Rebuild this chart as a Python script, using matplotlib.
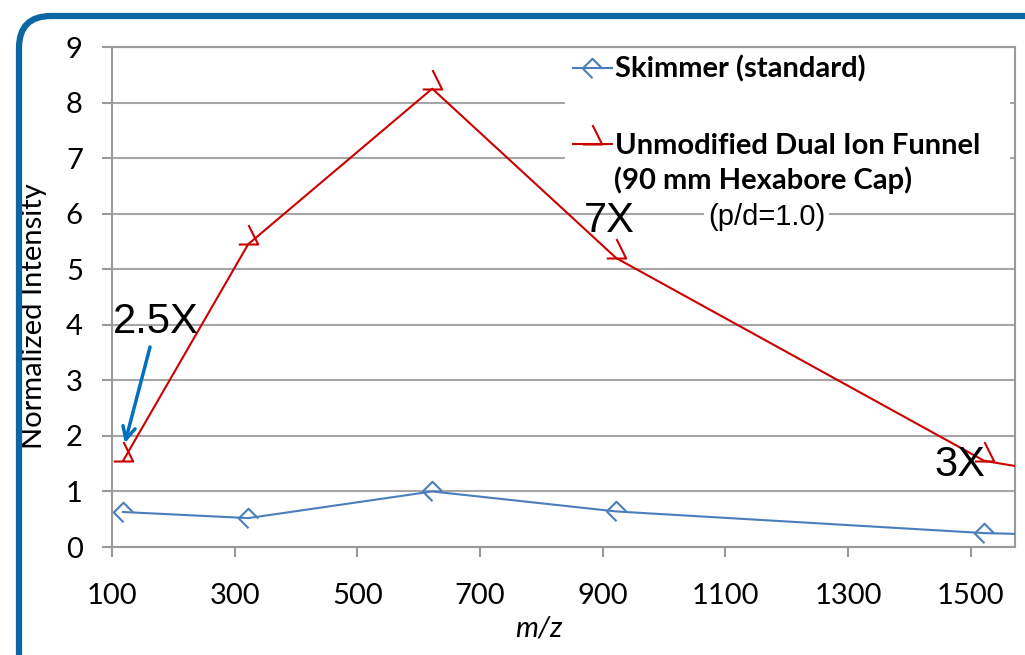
import matplotlib.pyplot as plt
import numpy as np
from matplotlib.path import Path
from matplotlib.patches import FancyBboxPatch
from matplotlib.transforms import IdentityTransform

# m/z of the tune-mix ions and normalized intensities
mz = [118, 322, 622, 922, 1522, 1822]
skimmer = [0.63, 0.52, 1.0, 0.64, 0.25, 0.17]
funnel = [1.55, 5.45, 8.25, 5.2, 1.55, 1.0]

x_ticks = [100, 300, 500, 700, 900, 1100, 1300, 1500]
y_ticks = [0, 1, 2, 3, 4, 5, 6, 7, 8, 9]

blue = '#4A7EBB'
red = '#CC0000'
grey = '#9A9A9A'

plt.rcParams['font.family'] = ['Lato', 'DejaVu Sans']

# open markers drawn only partly, as in the original chart
diamond = Path([(0, -1), (-1, 0), (0, 1), (1, 0)])
tri = Path([(-1, 0), (1, 0), (0, 2)])

fig = plt.figure(figsize=(10.25, 6.55), dpi=100)
ax = fig.add_axes([112 / 1025, 1 - 547 / 655, 903 / 1025, 500 / 655])

ax.plot(mz, skimmer, color=blue, lw=1.5, marker=diamond, ms=14,
        mfc='none', mec=blue, mew=1.5, label='Skimmer (standard)', zorder=3)
ax.plot(mz, funnel, color=red, lw=1.5, marker=tri, ms=28,
        mfc='none', mec=red, mew=1.5, label='Unmodified Dual Ion Funnel', zorder=3)

ax.set_xlim(100, 1572)
ax.set_ylim(0, 9)
ax.set_xticks(x_ticks)
ax.set_yticks(y_ticks)
ax.tick_params(axis='both', direction='out', length=7, width=1.5, color=grey,
               labelsize=21)
ax.tick_params(axis='y', pad=14)
ax.tick_params(axis='x', pad=19)
ax.yaxis.grid(True, color='#A6A6A6', lw=1.5)
ax.set_axisbelow(True)
for s in ax.spines.values():
    s.set_color(grey)
    s.set_linewidth(1.5)

ax.set_ylabel('Normalized Intensity', fontsize=21)
ax.yaxis.set_label_coords(-0.072, 0.462)
ax.set_xlabel('m/z', fontsize=21, style='italic')
ax.xaxis.set_label_coords(0.473, -0.138)

leg = ax.legend(loc='upper left', bbox_to_anchor=(0.502, 0.5, 0.493, 0.497),
                mode='expand', borderaxespad=0, borderpad=0.25,
                handlelength=1.35, handletextpad=0.12, labelspacing=1.72,
                prop={'weight': 'bold', 'size': 21},
                frameon=True, fancybox=False, framealpha=1)
leg.get_frame().set_edgecolor('white')
leg.get_frame().set_linewidth(0)

ax.text(0.556, 0.734, '(90 mm Hexabore Cap)', transform=ax.transAxes,
        fontsize=21, fontweight='bold', va='center', ha='left', zorder=6,
        bbox=dict(facecolor='white', edgecolor='none', pad=2))
ax.text(0.66, 0.66, '(p/d=1.0)', transform=ax.transAxes,
        family=['Liberation Sans', 'DejaVu Sans'], fontsize=21,
        va='center', ha='left', zorder=6,
        bbox=dict(facecolor='white', edgecolor='none', pad=3))

# fold-change labels
ann = dict(family=['Liberation Sans', 'DejaVu Sans'], fontsize=30,
           va='center', ha='left', zorder=7)
ax.text(102, 4.05, '2.5X', **ann)
ax.text(870, 5.87, '7X', **ann)
ax.text(1441, 1.48, '3X', **ann)
ax.annotate('', xy=(121, 1.87), xytext=(162, 3.6),
            arrowprops=dict(arrowstyle='->,head_length=0.9,head_width=0.45',
                            color='#0070C0', lw=2.5, shrinkA=0, shrinkB=0),
            zorder=7)

# rounded slide frame around the chart
frame = FancyBboxPatch((19, -30), 1040, 655 - 16 + 30,
                       boxstyle='round,pad=0,rounding_size=32',
                       transform=IdentityTransform(), fill=False,
                       edgecolor='#0B66A2', linewidth=4.5, zorder=10)
fig.patches.append(frame)

fig.savefig('out.png', dpi=100)
